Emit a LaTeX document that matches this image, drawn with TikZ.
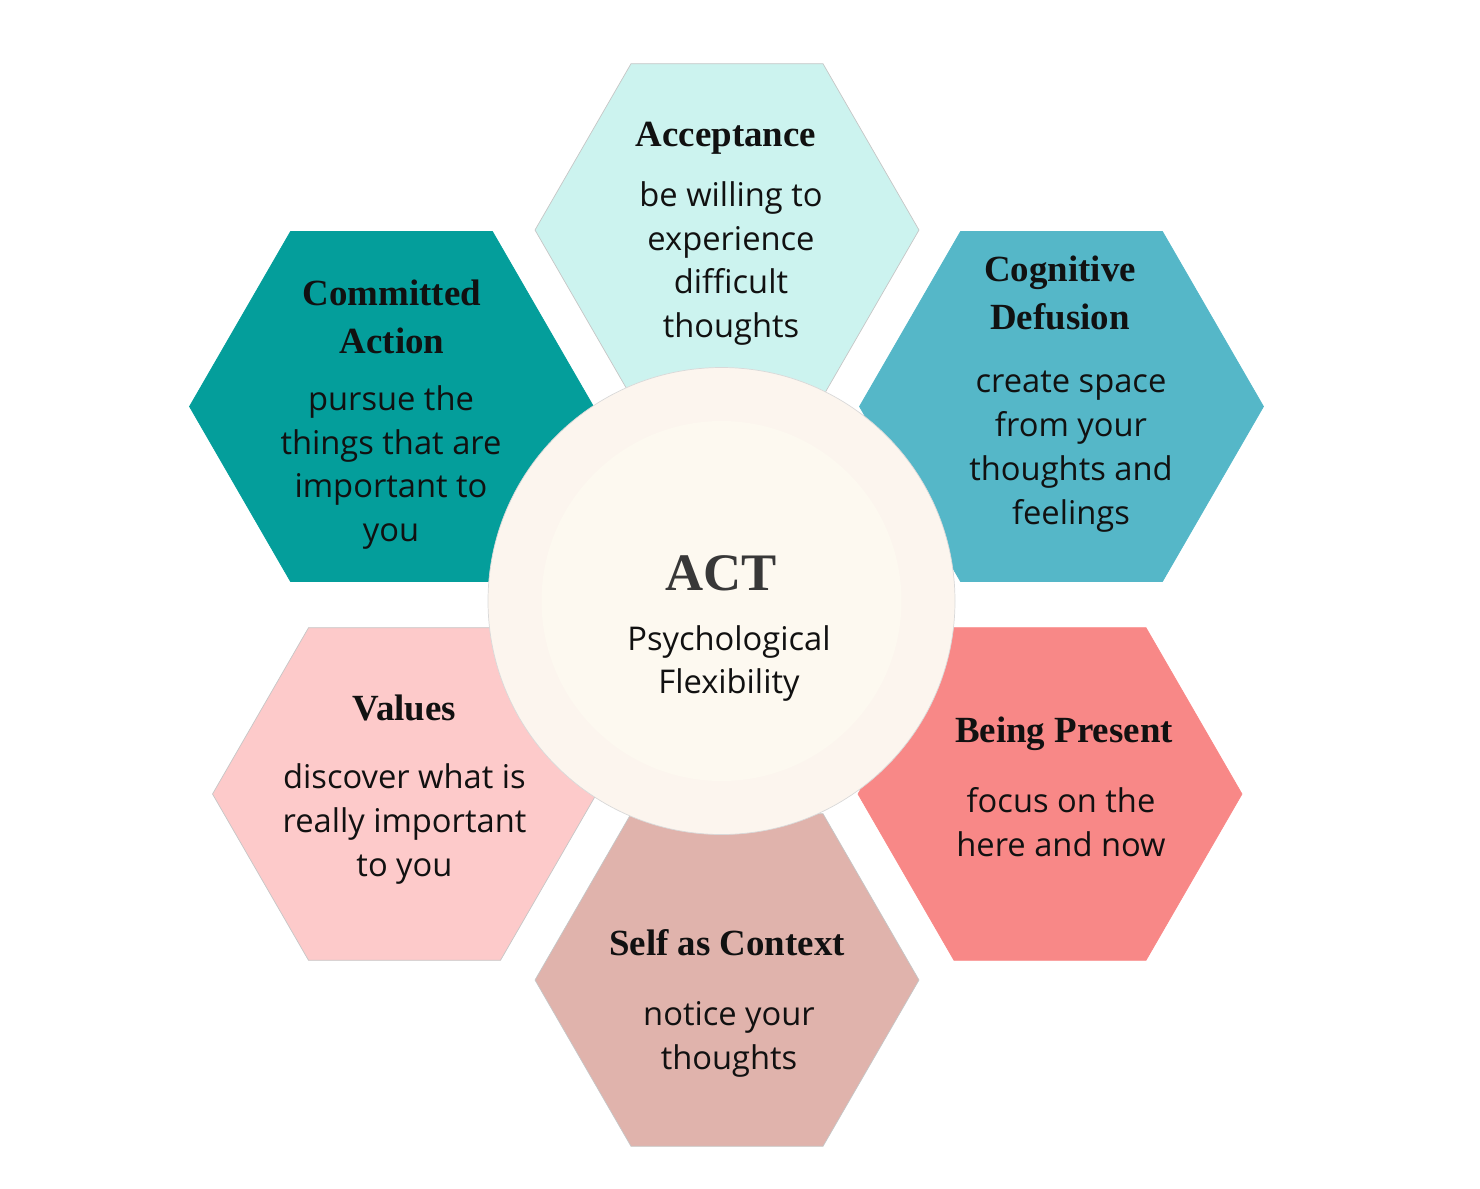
\documentclass[tikz,border=0pt]{standalone}
\usepackage{tikz}
\usepackage{xcolor}
\usepackage{fontspec}
\setmainfont{Open Sans}
\newfontfamily\headfont{Liberation Serif}
\definecolor{acccol}{HTML}{CCF3EF}
\definecolor{comcol}{HTML}{049E9B}
\definecolor{cogcol}{HTML}{55B7C8}
\definecolor{valcol}{HTML}{FDCACA}
\definecolor{precol}{HTML}{F88887}
\definecolor{selfcol}{HTML}{E0B3AC}
\definecolor{ringcol}{HTML}{FCF5EE}
\definecolor{corecol}{HTML}{FDF9F0}
\definecolor{inkcol}{HTML}{111111}
\usetikzlibrary{shapes.geometric,positioning}

\tikzset{
	hexsmall/.style={regular polygon,regular polygon sides=6,minimum size=3.84cm,inner sep=0pt,outer sep=0pt,draw=gray!45,line width=0.2pt},
	hexbig/.style={hexsmall,minimum size=4.04cm},
	headtext/.style={font=\headfont\bfseries\fontsize{10.5}{13.6}\selectfont,text=inkcol,align=center,inner sep=0pt},
	bodytext/.style={font=\fontsize{9.3}{12.5}\selectfont,text=inkcol,align=center,inner sep=0pt}
}

\begin{document}
\begin{tikzpicture}
	\useasboundingbox (0,0) rectangle (14.8,-11.88);
	\coordinate[] (cAcc) at (7.27,-2.30);
	\coordinate[] (cCom) at (3.915,-4.065);
	\coordinate[] (cCog) at (10.615,-4.065);
	\coordinate[] (cVal) at (4.045,-7.94);
	\coordinate[] (cPre) at (10.50,-7.94);
	\coordinate[] (cSelf) at (7.27,-9.80);
	\coordinate[] (centre) at (7.215,-6.01);
	
	\node (hAcc) at (cAcc)[hexsmall,fill=acccol]{};
	\node (hCom) at (cCom)[hexbig,fill=comcol,draw=comcol]{};
	\node (hCog) at (cCog)[hexbig,fill=cogcol,draw=cogcol]{};
	\node (hVal) at (cVal)[hexsmall,fill=valcol]{};
	\node (hPre) at (cPre)[hexsmall,fill=precol,draw=precol]{};
	\node (hSelf) at (cSelf)[hexsmall,fill=selfcol]{};
	
	\node (ring) at (centre)[circle,fill=ringcol,draw=gray!30,line width=0.2pt,minimum size=4.67cm,inner sep=0pt]{};
	\node (core) at (centre)[circle,fill=corecol,minimum size=3.6cm,inner sep=0pt]{};
	
	\node (headAcc) at ([xshift=-0.01cm,yshift=0.92cm]hAcc.center)[headtext]{Acceptance};
	\node (bodyAcc) at ([xshift=0.04cm,yshift=-0.335cm]hAcc.center)[bodytext]{be willing to\\experience\\difficult\\thoughts};
	
	\node (headCom) at ([xshift=0.005cm,yshift=0.895cm]hCom.center)[headtext]{Committed\\Action};
	\node (bodyCom) at ([xshift=-0.005cm,yshift=-0.61cm]hCom.center)[bodytext]{pursue the\\things that are\\important to\\you};
	
	\node (headCog) at ([xshift=-0.015cm,yshift=1.135cm]hCog.center)[headtext]{Cognitive\\Defusion};
	\node (bodyCog) at ([xshift=0.095cm,yshift=-0.455cm]hCog.center)[bodytext]{create space\\from your\\thoughts and\\feelings};
	
	\node (headVal) at ([yshift=0.86cm]hVal.center)[headtext]{Values};
	\node (bodyVal) at ([yshift=-0.30cm]hVal.center)[bodytext]{discover what is\\really important\\to you};
	
	\node (headPre) at ([xshift=0.14cm,yshift=0.60cm]hPre.center)[headtext]{Being Present};
	\node (bodyPre) at ([xshift=0.11cm,yshift=-0.28cm]hPre.center)[bodytext]{focus on the\\here and now};
	
	\node (headSelf) at ([yshift=0.37cm]hSelf.center)[headtext]{Self as Context};
	\node (bodySelf) at ([xshift=0.02cm,yshift=-0.59cm]hSelf.center)[bodytext]{notice your\\thoughts};
	
	\node (headAct) at ([yshift=0.28cm]ring.center)[headtext,text=black!78,font=\headfont\bfseries\fontsize{15}{18}\selectfont]{ACT};
	\node (bodyAct) at ([xshift=0.075cm,yshift=-0.625cm]ring.center)[bodytext]{Psychological\\Flexibility};
\end{tikzpicture}
\end{document}
